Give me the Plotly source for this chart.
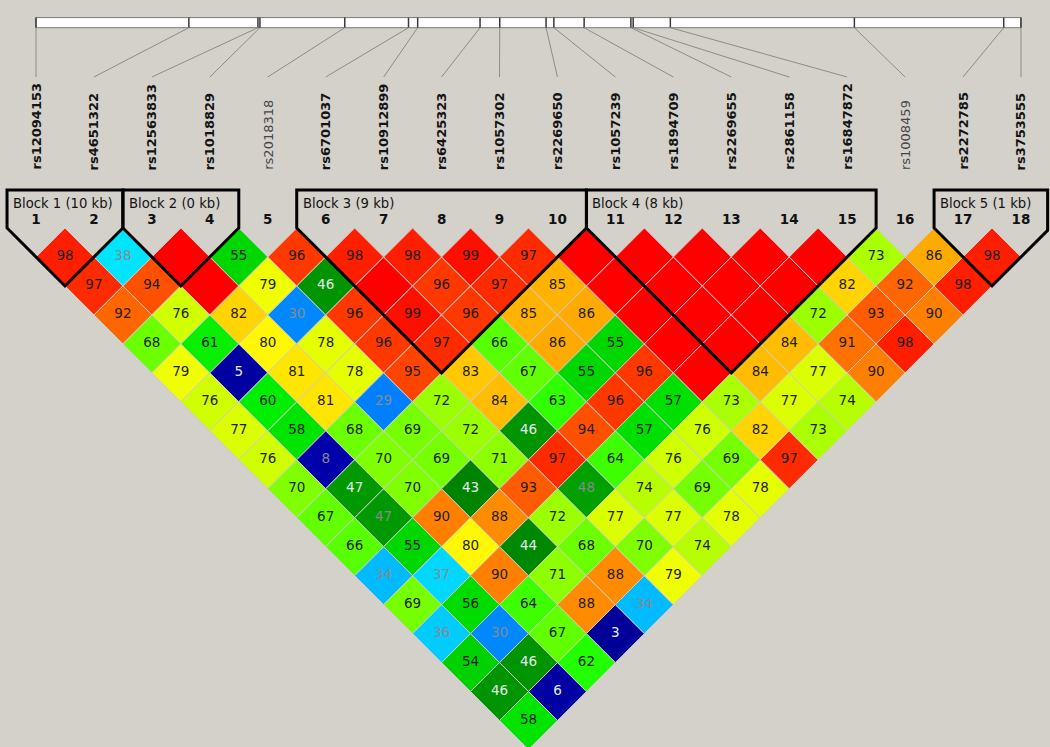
import plotly.graph_objects as go

# ---------------- data ----------------
snp_names = ["rs12094153", "rs4651322", "rs12563833", "rs1018829", "rs2018318",
             "rs6701037", "rs10912899", "rs6425323", "rs1057302", "rs2269650",
             "rs1057239", "rs1894709", "rs2269655", "rs2861158", "rs16847872",
             "rs1008459", "rs2272785", "rs3753555"]
positions_kb = [0.0, 10.0, 14.52, 14.65, 20.2, 24.37, 24.97, 29.05, 30.34, 33.37,
                33.88, 35.86, 38.92, 39.07, 41.5, 53.54, 63.31, 64.44]
faded_markers = [5, 16]

# D' (x100) of marker i with markers i+1 .. 18 (100 = shown without number)
ld_m1 = [98, 97, 92, 68, 79, 76, 77, 76, 70, 67, 66, 34, 69, 36, 54, 46, 58]
ld_m2 = [38, 94, 76, 61, 5, 60, 58, 8, 47, 47, 55, 37, 56, 30, 46, 6]
ld_m3 = [100, 100, 82, 80, 81, 81, 68, 70, 70, 90, 80, 90, 64, 67, 62]
ld_m4 = [55, 79, 30, 78, 78, 29, 69, 69, 43, 88, 44, 71, 88, 3]
ld_m5 = [96, 46, 96, 96, 95, 72, 72, 71, 93, 72, 68, 88, 34]
ld_m6 = [98, 100, 99, 97, 83, 84, 46, 97, 48, 77, 70, 79]
ld_m7 = [98, 96, 96, 66, 67, 63, 94, 64, 74, 77, 74]
ld_m8 = [99, 97, 85, 86, 55, 96, 57, 76, 69, 78]
ld_m9 = [97, 85, 86, 55, 96, 57, 76, 69, 78]
ld_m10 = [100, 100, 100, 100, 100, 73, 82, 97]
ld_m11 = [100, 100, 100, 100, 84, 77, 73]
ld_m12 = [100, 100, 100, 84, 77, 74]
ld_m13 = [100, 100, 72, 91, 90]
ld_m14 = [100, 82, 93, 98]
ld_m15 = [73, 92, 90]
ld_m16 = [86, 98]
ld_m17 = [98]

# pairs with low LOD (number shown in grey)
low_lod_pairs = [(2, 3), (4, 7), (4, 10), (2, 10), (2, 12), (6, 15), (1, 13),
                 (2, 14), (1, 15), (2, 16), (5, 18)]

block_first = [1, 3, 6, 11, 17]
block_last = [2, 4, 10, 15, 18]
block_kb = [10, 0, 9, 8, 1]

# ---------------- styling ----------------
BG = "#D4D0CA"
PX = 57.94           # pixels per marker unit
Y0 = 228.0           # pixel row of diamond tops


def py(p):           # pixel row -> y data units
    return (p - Y0) / PX


anchors = [(0, (0, 0, 0x90)), (3, (0, 0, 0x99)), (8, (0, 0, 0xAA)),
           (29, (0, 0x80, 0xFF)), (30, (0, 0x88, 0xFF)), (34, (0, 0xBB, 0xFF)),
           (36, (0, 0xCC, 0xFF)), (37, (0, 0xD8, 0xFF)), (38, (0, 0xE5, 0xFF)),
           (43, (0, 0x84, 0)), (46, (0, 0x94, 0)), (48, (0, 0xA0, 0)),
           (54, (0, 0xD2, 0)), (58, (0, 0xE4, 0)), (60, (0, 0xEE, 0)),
           (61, (0x08, 0xF0, 0)), (62, (0x22, 0xFF, 0)), (66, (0x58, 0xFF, 0)),
           (70, (0x80, 0xFF, 0)), (73, (0xAA, 0xFF, 0)), (76, (0xD0, 0xFF, 0)),
           (79, (0xF0, 0xFF, 0)), (80, (0xFF, 0xF8, 0)), (82, (0xFF, 0xD4, 0)),
           (84, (0xFF, 0xBC, 0)), (86, (0xFF, 0xAA, 0)), (88, (0xFF, 0x8C, 0)),
           (90, (0xFF, 0x7F, 0)), (92, (0xFF, 0x66, 0)), (94, (0xFF, 0x50, 0)),
           (96, (0xFF, 0x38, 0)), (98, (0xFF, 0x1E, 0)), (100, (0xFF, 0, 0))]


def value_color(v):
    for (v0, c0), (v1, c1) in zip(anchors[:-1], anchors[1:]):
        if v0 <= v <= v1:
            t = 0 if v1 == v0 else (v - v0) / (v1 - v0)
            rgb = [round(a + (b - a) * t) for a, b in zip(c0, c1)]
            return rgb
    return list(anchors[-1][1])


ld_rows = [ld_m1, ld_m2, ld_m3, ld_m4, ld_m5, ld_m6, ld_m7, ld_m8, ld_m9,
           ld_m10, ld_m11, ld_m12, ld_m13, ld_m14, ld_m15, ld_m16, ld_m17]
n = len(snp_names)

shapes = []
tx, ty, tt, tc = [], [], [], []
for i, row in enumerate(ld_rows, start=1):
    for k, v in enumerate(row):
        j = i + 1 + k
        xc, yc = (i + j) / 2, (j - i) / 2
        rgb = value_color(v)
        shapes.append(dict(
            type="path", xref="x", yref="y",
            path=f"M {xc},{yc-0.5} L {xc+0.5},{yc} L {xc},{yc+0.5} L {xc-0.5},{yc} Z",
            fillcolor="rgb({},{},{})".format(*rgb),
            line=dict(color="#CDCDCD", width=1), layer="below"))
        if v < 100:
            tx.append(xc)
            ty.append(yc)
            tt.append(str(v))
            lum = 0.299 * rgb[0] + 0.587 * rgb[1] + 0.114 * rgb[2]
            if (i, j) in low_lod_pairs:
                tc.append("#858a90")
            elif rgb[0] < 100 and lum < 110:
                tc.append("#E4ECF0")
            else:
                tc.append("#1E1E1E")

# block outlines
y_block_top = py(190)
for a, b in zip(block_first, block_last):
    right = b + 0.5 if b < n else b + 0.46
    path = (f"M {a-0.5},{y_block_top} L {a-0.5},0 L {(a+b)/2},{(b-a+1)/2} "
            f"L {right},{b + 0.5 - right} L {right},{y_block_top} Z")
    shapes.append(dict(type="path", xref="x", yref="y", path=path,
                       line=dict(color="black", width=3), layer="above"))

# physical map bar
kb0, kb1 = positions_kb[0], positions_kb[-1]


def bar_x(kb):
    return 1 + (kb - kb0) / (kb1 - kb0) * (n - 1)


bar_top, bar_bot = py(17.6), py(27.7)
line_end = py(77)
shapes.append(dict(type="rect", xref="x", yref="y", x0=bar_x(kb0), x1=bar_x(kb1),
                   y0=bar_top, y1=bar_bot, fillcolor="white",
                   line=dict(color="#7A7A7A", width=1), layer="above"))
for k, p in enumerate(positions_kb, start=1):
    bx = bar_x(p)
    shapes.append(dict(type="line", xref="x", yref="y", x0=bx, x1=bx,
                       y0=bar_top, y1=bar_bot, line=dict(color="#3A3A3A", width=1.5)))
    shapes.append(dict(type="line", xref="x", yref="y", x0=bx, x1=k,
                       y0=bar_bot, y1=line_end, line=dict(color="#8C8C8C", width=1)))

fig = go.Figure()
fig.add_trace(go.Scatter(x=tx, y=ty, text=tt, mode="text", hoverinfo="skip",
                         textfont=dict(family="DejaVu Sans", size=13.5, color=tc),
                         showlegend=False))
fig.add_trace(go.Scatter(x=list(range(1, n + 1)), y=[py(221)] * n,
                         text=[str(k) for k in range(1, n + 1)], mode="text",
                         hoverinfo="skip", showlegend=False,
                         textfont=dict(family="DejaVu Sans", size=13.5,
                                       color="#111111", weight="bold")))

annotations = []
for k, name in enumerate(snp_names, start=1):
    faded = k in faded_markers
    annotations.append(dict(
        x=k, y=py(171), xref="x", yref="y", text=name, showarrow=False,
        textangle=-90, xanchor="center", yanchor="bottom", borderpad=0,
        font=dict(family="DejaVu Sans", size=13, color="#474747" if faded else "#141414",
                  weight="normal" if faded else "bold")))
for a, kb in zip(block_first, block_kb):
    annotations.append(dict(
        x=a - 0.5 + 4 / PX, y=py(203), xref="x", yref="y",
        text=f"Block {block_first.index(a) + 1} ({kb} kb)", showarrow=False,
        xanchor="left", yanchor="middle",
        font=dict(family="DejaVu Sans", size=13.2, color="#141414")))

fig.update_layout(
    width=1050, height=747, margin=dict(l=0, r=0, t=0, b=0),
    paper_bgcolor=BG, plot_bgcolor=BG, shapes=shapes, annotations=annotations,
    hovermode=False,
    xaxis=dict(range=[1 - 36 / PX, 1 + 1014 / PX], visible=False, fixedrange=True),
    yaxis=dict(range=[py(747), py(0)], visible=False, fixedrange=True),
)
fig.write_html("out.html", config={"displayModeBar": False},
               post_script="document.body.style.margin='0';"
                           "document.body.style.overflow='hidden';"
                           f"document.body.style.background='{BG}';")
